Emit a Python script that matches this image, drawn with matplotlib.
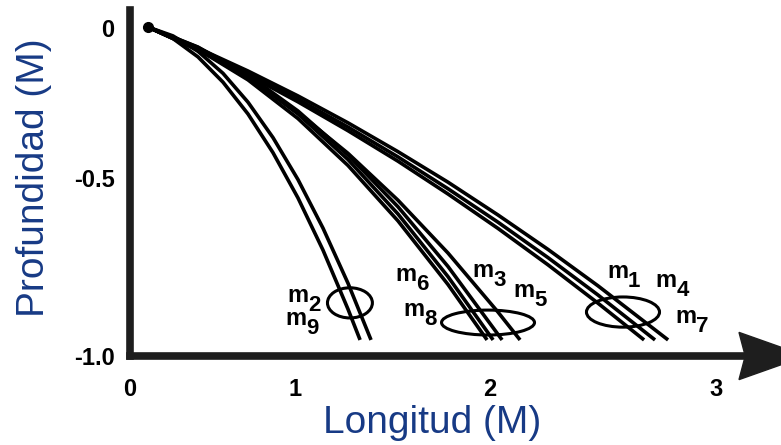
import matplotlib
matplotlib.use('Agg')
import matplotlib.pyplot as plt
from matplotlib.patches import Ellipse, Polygon
from matplotlib import transforms
import numpy as np

plt.rcParams['font.family'] = ['Liberation Sans', 'DejaVu Sans']

# curves (longitud, profundidad)
a1_x = [0.092, 0.220, 0.348, 0.476, 0.604, 0.732, 0.860, 0.988, 1.116, 1.178]
a1_y = [0.003, -0.032, -0.088, -0.165, -0.262, -0.380, -0.518, -0.677, -0.857, -0.951]
a2_x = [0.092, 0.220, 0.348, 0.476, 0.604, 0.732, 0.860, 0.988, 1.116, 1.234]
a2_y = [0.003, -0.024, -0.071, -0.138, -0.226, -0.334, -0.462, -0.610, -0.778, -0.951]

b_x = [0.092, 0.348, 0.604, 0.860, 1.116, 1.372, 1.628]
b1_y = [0.003, -0.065, -0.158, -0.276, -0.419, -0.588, -0.782, -0.951]
b2_y = [0.003, -0.059, -0.148, -0.262, -0.401, -0.567, -0.758, -0.951]
b3_y = [0.003, -0.058, -0.143, -0.253, -0.387, -0.545, -0.727, -0.951]
b4_x = [0.092, 0.348, 0.604, 0.860, 1.116, 1.372, 1.628, 1.884, 1.997]
b4_y = [0.003, -0.065, -0.152, -0.258, -0.382, -0.525, -0.686, -0.866, -0.951]
b_end = [1.828, 1.859, 1.905]

c_x = [0.092, 0.348, 0.604, 0.860, 1.116, 1.372, 1.628, 1.884, 2.140, 2.396]
c1_y = [0.003, -0.067, -0.143, -0.225, -0.313, -0.406, -0.506, -0.611, -0.722, -0.839, -0.951]
c2_y = [0.003, -0.065, -0.138, -0.217, -0.302, -0.393, -0.490, -0.592, -0.700, -0.814, -0.951]
c3_y = [0.003, -0.061, -0.131, -0.207, -0.289, -0.377, -0.470, -0.570, -0.675, -0.786, -0.951]
c_end = [2.632, 2.688, 2.755]

# groups circled on the chart: centre x, centre y, width, height
ell_x = [1.126, 1.833, 2.524]
ell_y = [-0.838, -0.898, -0.866]
ell_w = [0.230, 0.476, 0.374]
ell_h = [0.092, 0.076, 0.092]

lab_num = ['2', '9', '6', '8', '3', '5', '1', '4', '7']
lab_x = [0.804, 0.794, 1.357, 1.398, 1.751, 1.961, 2.442, 2.688, 2.790]
lab_y = [-0.834, -0.906, -0.772, -0.878, -0.759, -0.820, -0.762, -0.790, -0.899]

xtick_pos = [0, 0.845, 1.843, 3.0]
xtick_lab = ['0', '1', '2', '3']
ytick_pos = [0, -0.457, -1.0]
ytick_lab = ['0', '-0.5', '-1.0']

W, H = 781, 445
fig = plt.figure(figsize=(W / 100, H / 100), dpi=100)
ax = fig.add_axes([130 / W, (H - 356) / H, 651 / W, 346 / H])
ax.set_xlim(0, 3.333)
ax.set_ylim(-1, 0.055)

lw = 2.6
ax.plot(a1_x, a1_y, color='k', lw=lw, solid_capstyle='butt')
ax.plot(a2_x, a2_y, color='k', lw=lw, solid_capstyle='butt')
for yy, xe in zip([b1_y, b2_y, b3_y], b_end):
    ax.plot(b_x + [xe], yy, color='k', lw=lw, solid_capstyle='butt')
ax.plot(b4_x, b4_y, color='k', lw=lw, solid_capstyle='butt')
for yy, xe in zip([c1_y, c2_y, c3_y], c_end):
    ax.plot(c_x + [xe], yy, color='k', lw=lw, solid_capstyle='butt')
ax.plot([a1_x[0]], [a1_y[0]], 'o', color='k', ms=7)

for x, y, w, h in zip(ell_x, ell_y, ell_w, ell_h):
    ax.add_patch(Ellipse((x, y), w, h, fill=False, ec='k', lw=2.2))

sub = transforms.offset_copy(ax.transData, fig=fig, x=0, y=-6.5, units='points')
for n, x, y in zip(lab_num, lab_x, lab_y):
    t = ax.text(x, y, 'm', fontsize=17, fontweight='bold', ha='left', va='baseline')
    fig.canvas.draw()
    bb = t.get_window_extent()
    xr = ax.transData.inverted().transform((bb.x1, bb.y0))[0]
    ax.text(xr, y, n, fontsize=16, fontweight='bold', ha='left', va='baseline',
            transform=sub)

# axes drawn as thick bars with an arrow on the horizontal one
for s in ['top', 'right']:
    ax.spines[s].set_visible(False)
for s in ['left', 'bottom']:
    ax.spines[s].set_linewidth(5.5)
    ax.spines[s].set_color('#1e1e1e')
ax.spines['bottom'].set_bounds(0, 3.14)
ax.add_patch(Polygon([[3.46, -1.0], [3.118, -0.928], [3.15, -1.0], [3.118, -1.072]],
                     closed=True, color='#1e1e1e', clip_on=False, zorder=3))

ax.set_xticks(xtick_pos, xtick_lab, fontsize=17, fontweight='bold')
ax.set_yticks(ytick_pos, ytick_lab, fontsize=17, fontweight='bold')
ax.tick_params(axis='x', length=0, pad=16)
ax.tick_params(axis='y', length=0, pad=11)

navy = '#173a85'
fig.text(432 / W, 1 - 433 / H, 'Longitud (M)', fontsize=28, color=navy,
         ha='center', va='baseline')
fig.text(44 / W, 1 - 178 / H, 'Profundidad (M)', fontsize=28, color=navy,
         ha='center', va='baseline', rotation=90, rotation_mode='anchor')

fig.savefig('out.png', dpi=100)
